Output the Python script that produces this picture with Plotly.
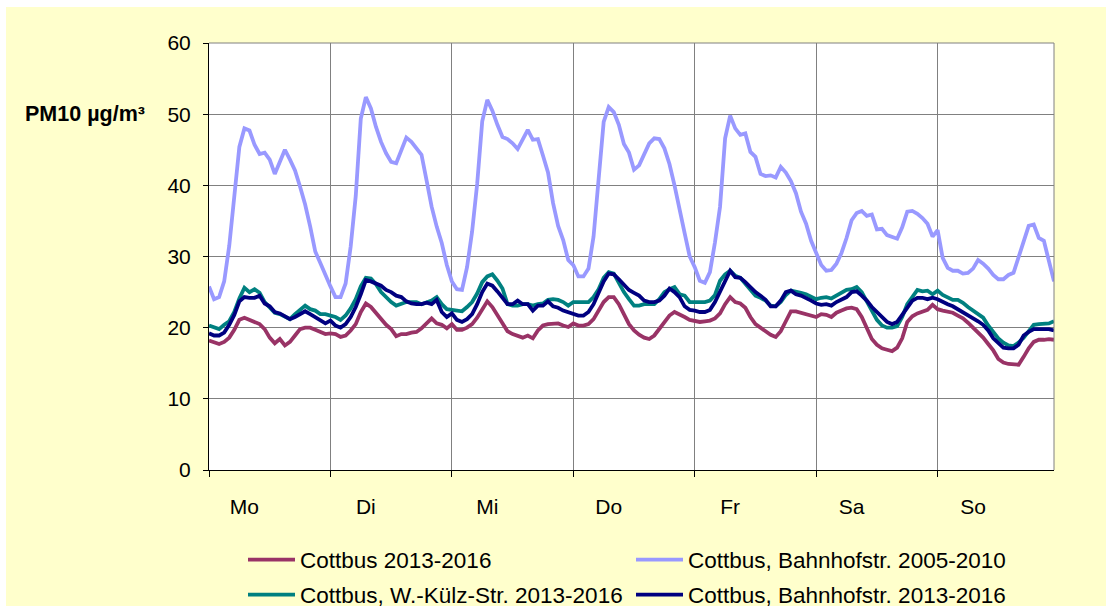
import plotly.graph_objects as go

hours = list(range(168))
day_labels = ["Mo", "Di", "Mi", "Do", "Fr", "Sa", "So"]
day_label_pos = [7, 31, 55, 79, 103, 127, 151]

cottbus_2013_2016 = [
    18.2, 17.9, 17.7, 18.0, 18.6, 19.7, 21.1, 21.4, 21.1, 20.8, 20.5, 19.8, 18.6, 17.8, 18.4, 17.5, 18.0, 18.9, 19.8, 20.0, 20.0, 19.7, 19.4, 19.1,
    19.2, 19.1, 18.7, 18.9, 19.6, 20.5, 22.2, 23.4, 22.9, 22.0, 21.1, 20.4, 19.8, 18.8, 19.1, 19.1, 19.3, 19.4, 19.9, 20.7, 21.3, 20.6, 20.4, 19.9,
    20.5, 19.7, 19.7, 20.0, 20.5, 21.4, 22.5, 23.7, 22.9, 21.8, 20.7, 19.5, 19.1, 18.8, 18.6, 18.9, 18.5, 19.6, 20.3, 20.5, 20.6, 20.6, 20.3, 20.1,
    20.6, 20.3, 20.3, 20.5, 21.2, 22.4, 23.6, 24.3, 24.3, 23.3, 21.9, 20.5, 19.6, 19.0, 18.6, 18.4, 18.9, 19.8, 20.8, 21.7, 22.2, 21.9, 21.5, 21.1,
    21.0, 20.8, 20.9, 21.0, 21.3, 22.0, 23.3, 24.3, 23.6, 23.4, 22.8, 21.5, 20.5, 20.0, 19.6, 19.0, 18.7, 19.5, 20.9, 22.3, 22.3, 22.1, 21.9, 21.8,
    21.5, 21.9, 21.8, 21.5, 22.1, 22.4, 22.7, 22.8, 22.6, 21.5, 20.0, 18.4, 17.6, 17.1, 16.9, 16.7, 17.2, 18.5, 20.8, 21.6, 22.0, 22.2, 22.5, 23.2,
    22.6, 22.4, 22.3, 22.1, 21.7, 21.3, 20.7, 20.0, 19.3, 18.6, 17.7, 16.8, 15.6, 15.1, 14.9, 14.8, 14.8, 15.9, 17.1, 18.0, 18.3, 18.3, 18.4, 18.3,
]

bahnhof_2005_2010 = [
    25.8, 24.0, 24.3, 26.5, 31.5, 38.0, 45.4, 48.0, 47.7, 45.7, 44.4, 44.6, 43.6, 41.6, 43.3, 45.0, 43.6, 42.1, 39.8, 37.3, 34.2, 30.7, 29.1, 27.3,
    25.8, 24.3, 24.3, 26.2, 31.4, 38.5, 49.4, 52.4, 50.8, 48.2, 46.1, 44.5, 43.3, 43.1, 45.0, 46.7, 46.1, 45.2, 44.3, 40.7, 37.0, 34.2, 31.9, 28.8,
    26.5, 25.4, 25.3, 28.5, 33.5, 40.2, 49.0, 52.0, 50.5, 48.5, 46.8, 46.5, 45.9, 45.1, 46.6, 47.8, 46.4, 46.5, 44.2, 41.8, 37.5, 34.3, 32.3, 29.5,
    28.8, 27.2, 27.2, 28.3, 32.8, 40.7, 48.9, 51.0, 50.3, 48.5, 45.8, 44.6, 42.2, 42.8, 44.5, 45.9, 46.6, 46.5, 45.2, 43.0, 40.0, 36.4, 33.3, 30.0,
    28.5, 26.6, 26.3, 27.8, 32.0, 37.0, 46.6, 49.8, 48.0, 47.1, 47.3, 44.7, 44.0, 41.6, 41.3, 41.4, 41.1, 42.6, 41.8, 40.6, 38.9, 36.3, 34.6, 32.2,
    30.5, 28.8, 28.0, 28.1, 29.0, 30.5, 32.6, 35.1, 36.1, 36.4, 35.7, 35.9, 33.8, 33.9, 33.0, 32.7, 32.5, 34.1, 36.3, 36.4, 36.0, 35.4, 34.6, 32.8,
    33.7, 29.8, 28.4, 28.0, 28.0, 27.6, 27.7, 28.3, 29.5, 29.0, 28.3, 27.4, 26.8, 26.8, 27.4, 27.7, 30.0, 32.1, 34.3, 34.5, 32.6, 32.2, 29.3, 26.5,
]

kuelz_2013_2016 = [
    20.3, 20.0, 19.8, 20.4, 20.9, 22.2, 24.1, 25.6, 25.0, 25.4, 24.9, 23.6, 22.8, 22.1, 21.9, 21.5, 21.2, 21.9, 22.5, 23.1, 22.6, 22.4, 21.9, 21.9,
    21.7, 21.5, 21.1, 21.7, 22.7, 24.0, 25.8, 27.0, 26.9, 26.1, 25.0, 24.2, 23.6, 23.1, 23.4, 23.6, 23.6, 23.6, 23.3, 23.6, 23.8, 24.3, 23.3, 22.6,
    22.5, 22.4, 22.3, 22.9, 23.6, 24.8, 26.4, 27.2, 27.5, 26.6, 25.5, 23.3, 23.1, 23.1, 23.3, 23.3, 23.1, 23.3, 23.4, 23.9, 24.0, 23.9, 23.6, 23.1,
    23.6, 23.6, 23.6, 23.6, 24.3, 25.4, 27.0, 27.8, 27.6, 26.2, 25.0, 24.0, 23.1, 23.1, 23.3, 23.3, 23.3, 24.0, 25.0, 25.4, 25.7, 24.7, 24.5, 23.6,
    23.6, 23.6, 23.6, 23.8, 24.6, 26.6, 27.5, 28.0, 27.3, 27.0, 26.2, 25.4, 24.5, 24.2, 23.8, 23.1, 23.0, 23.6, 24.6, 25.2, 25.1, 24.9, 24.7, 24.4,
    24.0, 24.2, 24.3, 24.1, 24.5, 25.0, 25.3, 25.4, 25.7, 25.0, 23.8, 22.4, 21.1, 20.3, 20.0, 20.0, 20.2, 21.5, 23.3, 24.3, 25.3, 25.1, 25.2, 24.7,
    25.2, 24.6, 24.3, 23.9, 23.9, 23.5, 22.9, 22.4, 21.8, 21.4, 20.3, 19.3, 18.5, 17.9, 17.5, 17.4, 17.9, 18.6, 19.6, 20.4, 20.5, 20.6, 20.6, 20.9,
]

bahnhof_2013_2016 = [
    19.2, 18.9, 18.9, 19.3, 20.4, 21.8, 23.7, 24.3, 24.2, 24.2, 24.5, 23.4, 23.0, 22.2, 22.0, 21.6, 21.2, 21.5, 21.9, 22.3, 21.9, 21.5, 21.1, 20.6,
    21.0, 20.3, 20.0, 20.5, 21.5, 22.9, 24.7, 26.7, 26.5, 26.2, 25.9, 25.3, 25.0, 24.5, 24.3, 23.7, 23.4, 23.3, 23.3, 23.5, 23.3, 23.9, 22.2, 21.5,
    22.0, 21.1, 20.8, 21.2, 21.9, 23.3, 25.0, 26.2, 25.9, 25.1, 24.3, 23.3, 23.3, 23.8, 23.3, 23.3, 22.4, 23.1, 23.1, 23.7, 23.0, 22.8, 22.4, 22.2,
    21.9, 21.7, 21.7, 22.2, 23.3, 25.0, 26.5, 27.6, 27.5, 26.8, 26.0, 25.3, 24.9, 24.5, 23.8, 23.6, 23.6, 23.8, 24.5, 25.5, 25.0, 24.3, 23.0, 22.5,
    22.4, 22.2, 22.2, 22.5, 23.6, 25.1, 26.5, 28.0, 27.1, 27.0, 26.4, 25.7, 25.0, 24.5, 23.9, 23.0, 23.0, 23.8, 25.0, 25.2, 24.7, 24.5, 24.2, 23.8,
    23.4, 23.2, 23.3, 23.1, 23.6, 24.0, 24.3, 25.0, 25.1, 24.5, 23.8, 22.9, 22.2, 21.4, 20.8, 20.5, 20.8, 21.8, 22.9, 23.8, 24.2, 24.2, 24.0, 24.2,
    24.0, 23.6, 23.3, 23.0, 22.6, 22.1, 21.7, 21.3, 20.9, 20.4, 19.6, 18.5, 17.8, 17.2, 17.1, 17.1, 17.6, 18.9, 19.4, 19.8, 19.8, 19.8, 19.8, 19.6,
]

series = [
    ("Cottbus 2013-2016", cottbus_2013_2016, "#993366", "legend"),
    ("Cottbus, Bahnhofstr. 2005-2010", bahnhof_2005_2010, "#9999FF", "legend2"),
    ("Cottbus, W.-Külz-Str. 2013-2016", kuelz_2013_2016, "#008080", "legend3"),
    ("Cottbus, Bahnhofstr. 2013-2016", bahnhof_2013_2016, "#000080", "legend4"),
]

FONT = "Liberation Sans, Arial, sans-serif"

fig = go.Figure()
for name, vals, color, lg in series:
    fig.add_trace(go.Scatter(
        x=hours, y=vals, mode="lines", name=name,
        line=dict(color=color, width=3.8),
        legend=lg, hoverinfo="skip",
    ))

W, H = 1112, 610
L, R, T, B = 209, 58, 43, 140
pw, ph = W - L - R, H - T - B

def px(xp):
    return (xp - L) / pw

def py(yp):
    return (H - B - yp) / ph

def cy(yp):
    return 1 - yp / H

leg_common = dict(orientation="h", bgcolor="rgba(0,0,0,0)", borderwidth=0,
                  font=dict(family=FONT, size=22.5, color="black"),
                  xanchor="left", yanchor="middle", yref="container", itemwidth=47)

fig.update_layout(
    width=W, height=H,
    margin=dict(l=L, r=R, t=T, b=B, pad=0, autoexpand=False),
    paper_bgcolor="white",
    plot_bgcolor="white",
    font=dict(family=FONT, size=20, color="black"),
    showlegend=True,
    legend=dict(x=px(243), y=cy(560), **leg_common),
    legend2=dict(x=px(631), y=cy(560), **leg_common),
    legend3=dict(x=px(243), y=cy(595), **leg_common),
    legend4=dict(x=px(631), y=cy(595), **leg_common),
    xaxis=dict(
        range=[0, 167], tickmode="array", tickvals=day_label_pos, ticktext=day_labels,
        ticks="", showgrid=False, zeroline=False,
        showline=True, linecolor="black", linewidth=1,
        tickfont=dict(family=FONT, size=21, color="black"),
        ticklabelstandoff=18,
        minor=dict(tick0=0, dtick=24, ticks="outside", ticklen=6, tickcolor="black",
                   tickwidth=1, showgrid=True, gridcolor="#808080", gridwidth=1),
    ),
    yaxis=dict(
        range=[0, 60], tickmode="linear", tick0=0, dtick=10,
        ticks="outside", ticklen=5, tickcolor="black", tickwidth=1,
        showgrid=True, gridcolor="#808080", gridwidth=1, zeroline=False,
        showline=True, linecolor="black", linewidth=1,
        tickfont=dict(family=FONT, size=21, color="black"),
        ticklabelstandoff=8,
    ),
    shapes=[
        dict(type="rect", xref="paper", yref="paper", layer="below",
             x0=px(6), x1=px(1106), y0=py(606), y1=py(7),
             fillcolor="#FFFFCC", line=dict(width=0)),
        dict(type="rect", xref="paper", yref="paper", layer="below",
             x0=0, x1=1, y0=0, y1=1,
             fillcolor="white", line=dict(width=0)),
        dict(type="line", xref="paper", yref="paper", layer="above",
             x0=0, x1=1, y0=1, y1=1, line=dict(color="#808080", width=1)),
        dict(type="line", xref="paper", yref="paper", layer="above",
             x0=1, x1=1, y0=0, y1=1, line=dict(color="#808080", width=1)),
    ],
    annotations=[
        dict(text="<b>PM10 µg/m³</b>", xref="paper", yref="y", x=px(85), y=50,
             xanchor="center", yanchor="middle", showarrow=False,
             font=dict(family=FONT, size=21.5, color="black")),
    ],
)

fig.write_html("out.html", config={"displayModeBar": False},
               post_script="document.body.style.margin='0';document.body.style.overflow='hidden';")
